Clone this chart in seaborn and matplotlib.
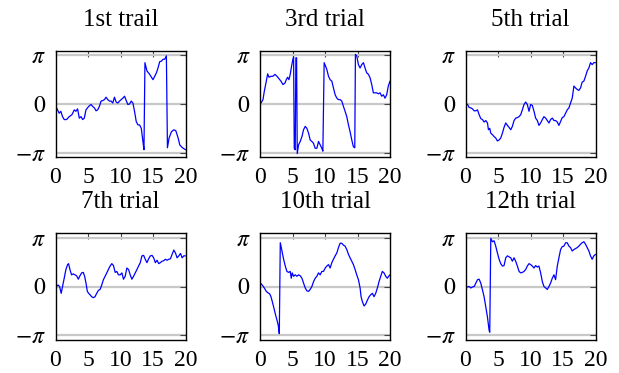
import numpy as np
import pandas as pd
import matplotlib
matplotlib.use("Agg")
import matplotlib.pyplot as plt
import seaborn as sns

titles = ["1st trail", "3rd trial", "5th trial", "7th trial", "10th trial", "12th trial"]

# time (x) and phase in units of pi (y) for each trial
t1 = [0, 0.31, 0.57, 0.82, 1.08, 1.34, 1.70, 2.11, 2.53, 2.89, 3.14, 3.40, 3.66, 3.92, 4.18,
      4.43, 4.69, 5.10, 5.46, 5.72, 5.98, 6.24, 6.49, 6.75, 7.01, 7.27, 7.53, 7.78, 8.04, 8.30,
      8.56, 8.81, 9.07, 9.33, 9.59, 9.85, 10.10, 10.36, 10.62, 10.88, 11.13, 11.39, 11.65, 11.91,
      12.16, 12.42, 12.68, 12.94, 13.20, 13.45, 13.61, 13.76, 14.07, 14.48, 15.0, 15.26, 15.52,
      15.77, 16.03, 16.29, 16.55, 16.80, 17.06, 17.22, 17.47, 17.84, 18.20, 18.51, 18.87, 19.12,
      19.38, 19.64, 20.0]
p1 = [-0.03, -0.12, -0.19, -0.15, -0.26, -0.32, -0.32, -0.26, -0.22, -0.12, -0.15, -0.10, -0.29,
      -0.26, -0.32, -0.29, -0.12, -0.05, -0.01, -0.05, -0.08, -0.14, -0.12, -0.05, 0.06, 0.07,
      0.09, 0.14, 0.09, 0.06, 0.06, 0.02, 0.14, 0.04, 0.02, 0.06, 0.09, 0.12, 0.16, 0.07, -0.01,
      0.0, 0.06, 0.02, -0.15, -0.36, -0.43, -0.43, -0.50, -0.77, -0.94, 0.85, 0.68, 0.61, 0.50,
      0.57, 0.64, 0.74, 0.87, 0.88, 0.92, 0.92, 0.99, -0.90, -0.70, -0.57, -0.53, -0.55, -0.70,
      -0.84, -0.88, -0.91, -0.94]

t2 = [0.15, 0.46, 0.66, 0.97, 1.18, 1.38, 1.69, 1.99, 2.30, 2.61, 2.92, 3.22, 3.53, 3.84, 4.04,
      4.25, 4.45, 4.65, 4.86, 5.06, 5.17, 5.27, 5.42, 5.52, 5.63, 5.73, 5.93, 6.19, 6.45, 6.70,
      6.96, 7.21, 7.47, 7.72, 7.98, 8.24, 8.49, 8.75, 9.00, 9.26, 9.51, 9.67, 9.87, 10.08, 10.28,
      10.54, 10.79, 11.05, 11.30, 11.56, 11.82, 12.07, 12.33, 12.58, 12.84, 13.09, 13.35, 13.61,
      13.86, 14.12, 14.37, 14.58, 14.68, 14.88, 15.14, 15.40, 15.65, 15.91, 16.16, 16.42, 16.68,
      16.93, 17.19, 17.44, 17.70, 17.95, 18.21, 18.47, 18.72, 18.98, 19.23, 19.49, 19.74, 20.0]
p2 = [0.02, 0.09, 0.26, 0.47, 0.62, 0.55, 0.57, 0.57, 0.61, 0.57, 0.52, 0.47, 0.40, 0.43, 0.50,
      0.55, 0.50, 0.61, 0.78, 0.92, 0.97, -0.91, -0.94, 0.95, 0.95, -1.02, -0.84, -0.77, -0.67,
      -0.53, -0.46, -0.50, -0.60, -0.74, -0.77, -0.81, -0.91, -0.91, -0.77, -0.84, -0.91, -0.97,
      0.85, 0.78, 0.71, 0.57, 0.50, 0.47, 0.33, 0.19, 0.12, 0.09, 0.09, 0.06, -0.05, -0.15, -0.26,
      -0.43, -0.57, -0.74, -0.88, -0.90, 1.02, 0.99, 0.81, 0.74, 0.81, 0.85, 0.74, 0.64, 0.61,
      0.54, 0.40, 0.23, 0.23, 0.23, 0.21, 0.23, 0.16, 0.19, 0.12, 0.19, 0.37, 0.47]

t3 = [0, 0.31, 0.56, 0.82, 1.07, 1.33, 1.59, 1.84, 2.10, 2.35, 2.61, 2.86, 3.12, 3.38, 3.53,
      3.73, 3.89, 4.14, 4.40, 4.65, 4.91, 5.17, 5.42, 5.68, 5.93, 6.19, 6.45, 6.70, 6.96, 7.21,
      7.47, 7.72, 7.98, 8.24, 8.49, 8.75, 9.00, 9.26, 9.51, 9.77, 10.03, 10.28, 10.54, 10.79,
      11.05, 11.30, 11.56, 11.82, 12.07, 12.33, 12.58, 12.84, 13.09, 13.35, 13.61, 13.86, 14.12,
      14.37, 14.63, 14.88, 15.14, 15.40, 15.65, 15.91, 16.16, 16.42, 16.68, 16.93, 17.19, 17.44,
      17.70, 17.95, 18.21, 18.47, 18.72, 18.98, 19.23, 19.49, 19.74, 20.0]
p3 = [0.02, -0.01, -0.07, -0.08, -0.10, -0.14, -0.14, -0.12, -0.22, -0.30, -0.32, -0.37, -0.34,
      -0.39, -0.53, -0.50, -0.60, -0.63, -0.67, -0.70, -0.76, -0.74, -0.70, -0.60, -0.48, -0.39,
      -0.44, -0.48, -0.53, -0.46, -0.34, -0.29, -0.28, -0.26, -0.22, -0.12, -0.01, 0.04, -0.01,
      -0.15, -0.01, -0.03, -0.15, -0.29, -0.34, -0.44, -0.39, -0.32, -0.26, -0.29, -0.34, -0.39,
      -0.32, -0.29, -0.34, -0.34, -0.37, -0.44, -0.36, -0.28, -0.26, -0.19, -0.12, -0.08, 0.02,
      0.12, 0.37, 0.33, 0.30, 0.28, 0.33, 0.45, 0.47, 0.57, 0.68, 0.74, 0.85, 0.81, 0.85, 0.85]

t4 = [0, 0.21, 0.41, 0.62, 0.88, 1.08, 1.34, 1.60, 1.86, 2.01, 2.22, 2.47, 2.73, 2.99, 3.25,
      3.51, 3.76, 4.02, 4.28, 4.48, 4.69, 4.90, 5.10, 5.31, 5.57, 5.82, 6.08, 6.34, 6.60, 6.86,
      7.11, 7.37, 7.63, 7.89, 8.14, 8.40, 8.66, 8.92, 9.18, 9.43, 9.69, 9.95, 10.21, 10.46, 10.72,
      10.98, 11.24, 11.49, 11.75, 12.01, 12.27, 12.53, 12.78, 13.04, 13.30, 13.56, 13.81, 14.07,
      14.33, 14.59, 14.85, 15.10, 15.36, 15.62, 15.88, 16.13, 16.39, 16.65, 16.91, 17.16, 17.42,
      17.68, 17.94, 18.20, 18.45, 18.71, 18.97, 19.23, 19.48, 19.74, 20.0]
p4 = [0.0, 0.01, 0.03, 0.0, -0.14, 0.0, 0.17, 0.35, 0.45, 0.47, 0.35, 0.24, 0.26, 0.24, 0.22,
      0.15, 0.22, 0.28, 0.29, 0.21, 0.07, -0.10, -0.14, -0.17, -0.21, -0.23, -0.21, -0.14, -0.08,
      -0.06, 0.03, 0.14, 0.21, 0.28, 0.35, 0.42, 0.47, 0.43, 0.29, 0.31, 0.24, 0.24, 0.28, 0.15,
      0.21, 0.38, 0.35, 0.24, 0.15, 0.21, 0.28, 0.35, 0.42, 0.49, 0.63, 0.64, 0.56, 0.49, 0.57,
      0.63, 0.64, 0.59, 0.49, 0.54, 0.47, 0.49, 0.52, 0.53, 0.56, 0.54, 0.56, 0.57, 0.66, 0.75,
      0.69, 0.59, 0.63, 0.68, 0.59, 0.63, 0.63]

t5 = [0.15, 0.46, 0.66, 0.97, 1.23, 1.48, 1.69, 1.89, 2.10, 2.35, 2.61, 2.81, 2.97, 3.12, 3.38,
      3.63, 3.89, 4.14, 4.40, 4.65, 4.81, 4.96, 5.17, 5.42, 5.68, 5.93, 6.19, 6.45, 6.70, 6.96,
      7.21, 7.47, 7.72, 7.98, 8.24, 8.49, 8.75, 9.00, 9.26, 9.51, 9.77, 10.03, 10.28, 10.54,
      10.79, 11.05, 11.30, 11.56, 11.82, 12.07, 12.33, 12.58, 12.84, 13.09, 13.35, 13.61, 13.86,
      14.12, 14.37, 14.63, 14.88, 15.14, 15.40, 15.55, 15.75, 16.01, 16.27, 16.52, 16.78, 17.03,
      17.29, 17.54, 17.80, 18.06, 18.31, 18.57, 18.82, 19.08, 19.34, 19.59, 19.85, 20.0]
p5 = [0.06, 0.01, -0.03, -0.10, -0.13, -0.15, -0.21, -0.31, -0.42, -0.56, -0.69, -0.80, -0.97,
      0.90, 0.73, 0.56, 0.42, 0.31, 0.29, 0.31, 0.17, 0.28, 0.21, 0.24, 0.21, 0.24, 0.22, 0.17,
      0.07, -0.03, -0.09, -0.10, -0.06, 0.0, 0.10, 0.17, 0.21, 0.28, 0.24, 0.31, 0.31, 0.38, 0.42,
      0.45, 0.38, 0.49, 0.56, 0.63, 0.69, 0.80, 0.89, 0.89, 0.85, 0.83, 0.76, 0.66, 0.59, 0.52,
      0.45, 0.35, 0.24, 0.14, -0.03, -0.21, -0.31, -0.40, -0.36, -0.28, -0.21, -0.17, -0.14,
      -0.21, -0.14, -0.03, 0.10, 0.21, 0.31, 0.28, 0.21, 0.17, 0.22, 0.24]

t6 = [0, 0.31, 0.56, 0.82, 1.07, 1.33, 1.59, 1.84, 2.10, 2.35, 2.61, 2.86, 3.12, 3.38, 3.63,
      3.73, 3.89, 4.14, 4.40, 4.65, 4.91, 5.17, 5.42, 5.68, 5.93, 6.19, 6.45, 6.70, 6.96, 7.21,
      7.47, 7.72, 7.98, 8.24, 8.49, 8.75, 9.00, 9.26, 9.51, 9.77, 10.03, 10.28, 10.54, 10.79,
      11.05, 11.30, 11.56, 11.82, 12.07, 12.33, 12.58, 12.84, 13.09, 13.35, 13.61, 13.86, 14.12,
      14.37, 14.63, 14.88, 15.14, 15.40, 15.65, 15.91, 16.16, 16.42, 16.68, 16.93, 17.19, 17.44,
      17.70, 17.95, 18.21, 18.47, 18.72, 18.98, 19.23, 19.49, 19.74, 20.0]
p6 = [0.0, -0.01, 0.0, -0.03, -0.01, 0.0, 0.07, 0.14, 0.15, 0.07, -0.07, -0.21, -0.42, -0.63,
      -0.90, -0.94, 0.99, 0.92, 0.94, 0.83, 0.69, 0.56, 0.47, 0.42, 0.43, 0.59, 0.63, 0.61, 0.59,
      0.52, 0.59, 0.52, 0.42, 0.31, 0.28, 0.29, 0.31, 0.35, 0.42, 0.47, 0.45, 0.42, 0.38, 0.43,
      0.40, 0.42, 0.28, 0.10, 0.0, -0.03, -0.06, 0.0, 0.07, 0.17, 0.24, 0.14, 0.42, 0.59, 0.76,
      0.82, 0.83, 0.90, 0.90, 0.83, 0.80, 0.73, 0.76, 0.78, 0.80, 0.83, 0.87, 0.90, 0.92, 0.87,
      0.80, 0.73, 0.63, 0.56, 0.63, 0.66]

times = [t1, t2, t3, t4, t5, t6]
phases = [p1, p2, p3, p4, p5, p6]

xticks = [0, 5, 10, 15, 20]
xtick_labels = ["0", "5", "10", "15", "20"]
ytick_labels = [r"$-\pi$", r"$0$", r"$\pi$"]

sns.set_theme(style="white")
plt.rcParams["font.family"] = ["Liberation Serif", "DejaVu Serif"]
plt.rcParams["mathtext.fontset"] = "stix"
plt.rcParams["text.color"] = "black"

FW, FH = 619, 373
fig = plt.figure(figsize=(FW / 100, FH / 100), dpi=100)
lefts = [55.5, 260.0, 465.5]
tops = [50.5, 233.0]
W, H = 130.0, 107.0

for i in range(6):
    r, c = divmod(i, 3)
    l, tp = lefts[c], tops[r]
    ax = fig.add_axes([l / FW, 1 - (tp + H) / FH, W / FW, H / FH])
    df = pd.DataFrame({"t": times[i], "phase": np.array(phases[i]) * np.pi})
    sns.lineplot(data=df, x="t", y="phase", ax=ax, color="#0000ff", linewidth=0.9,
                 estimator=None, sort=False)
    ax.set_xlim(0, 20)
    ax.set_ylim(-1.1 * np.pi, 1.1 * np.pi)
    ax.set_xticks(xticks)
    ax.set_xticklabels(xtick_labels)
    ax.set_yticks([-np.pi, 0, np.pi])
    ax.set_yticklabels(ytick_labels)
    ax.set_axisbelow(True)
    ax.yaxis.grid(True, color="#c8c8c8", linewidth=1.6)
    ax.xaxis.grid(False)
    ax.tick_params(direction="in", top=True, right=True, length=4, width=0.8,
                   color="#444444", labelsize=17, labelcolor="black")
    ax.tick_params(axis="x", pad=7)
    ax.tick_params(axis="y", pad=7)
    ax.set_xlabel("")
    ax.set_ylabel("")
    for s in ax.spines.values():
        s.set_color("black")
        s.set_linewidth(1.0)
    ax.set_title(titles[i], fontsize=18, pad=18, color="black")

fig.savefig("out.png", dpi=100)
